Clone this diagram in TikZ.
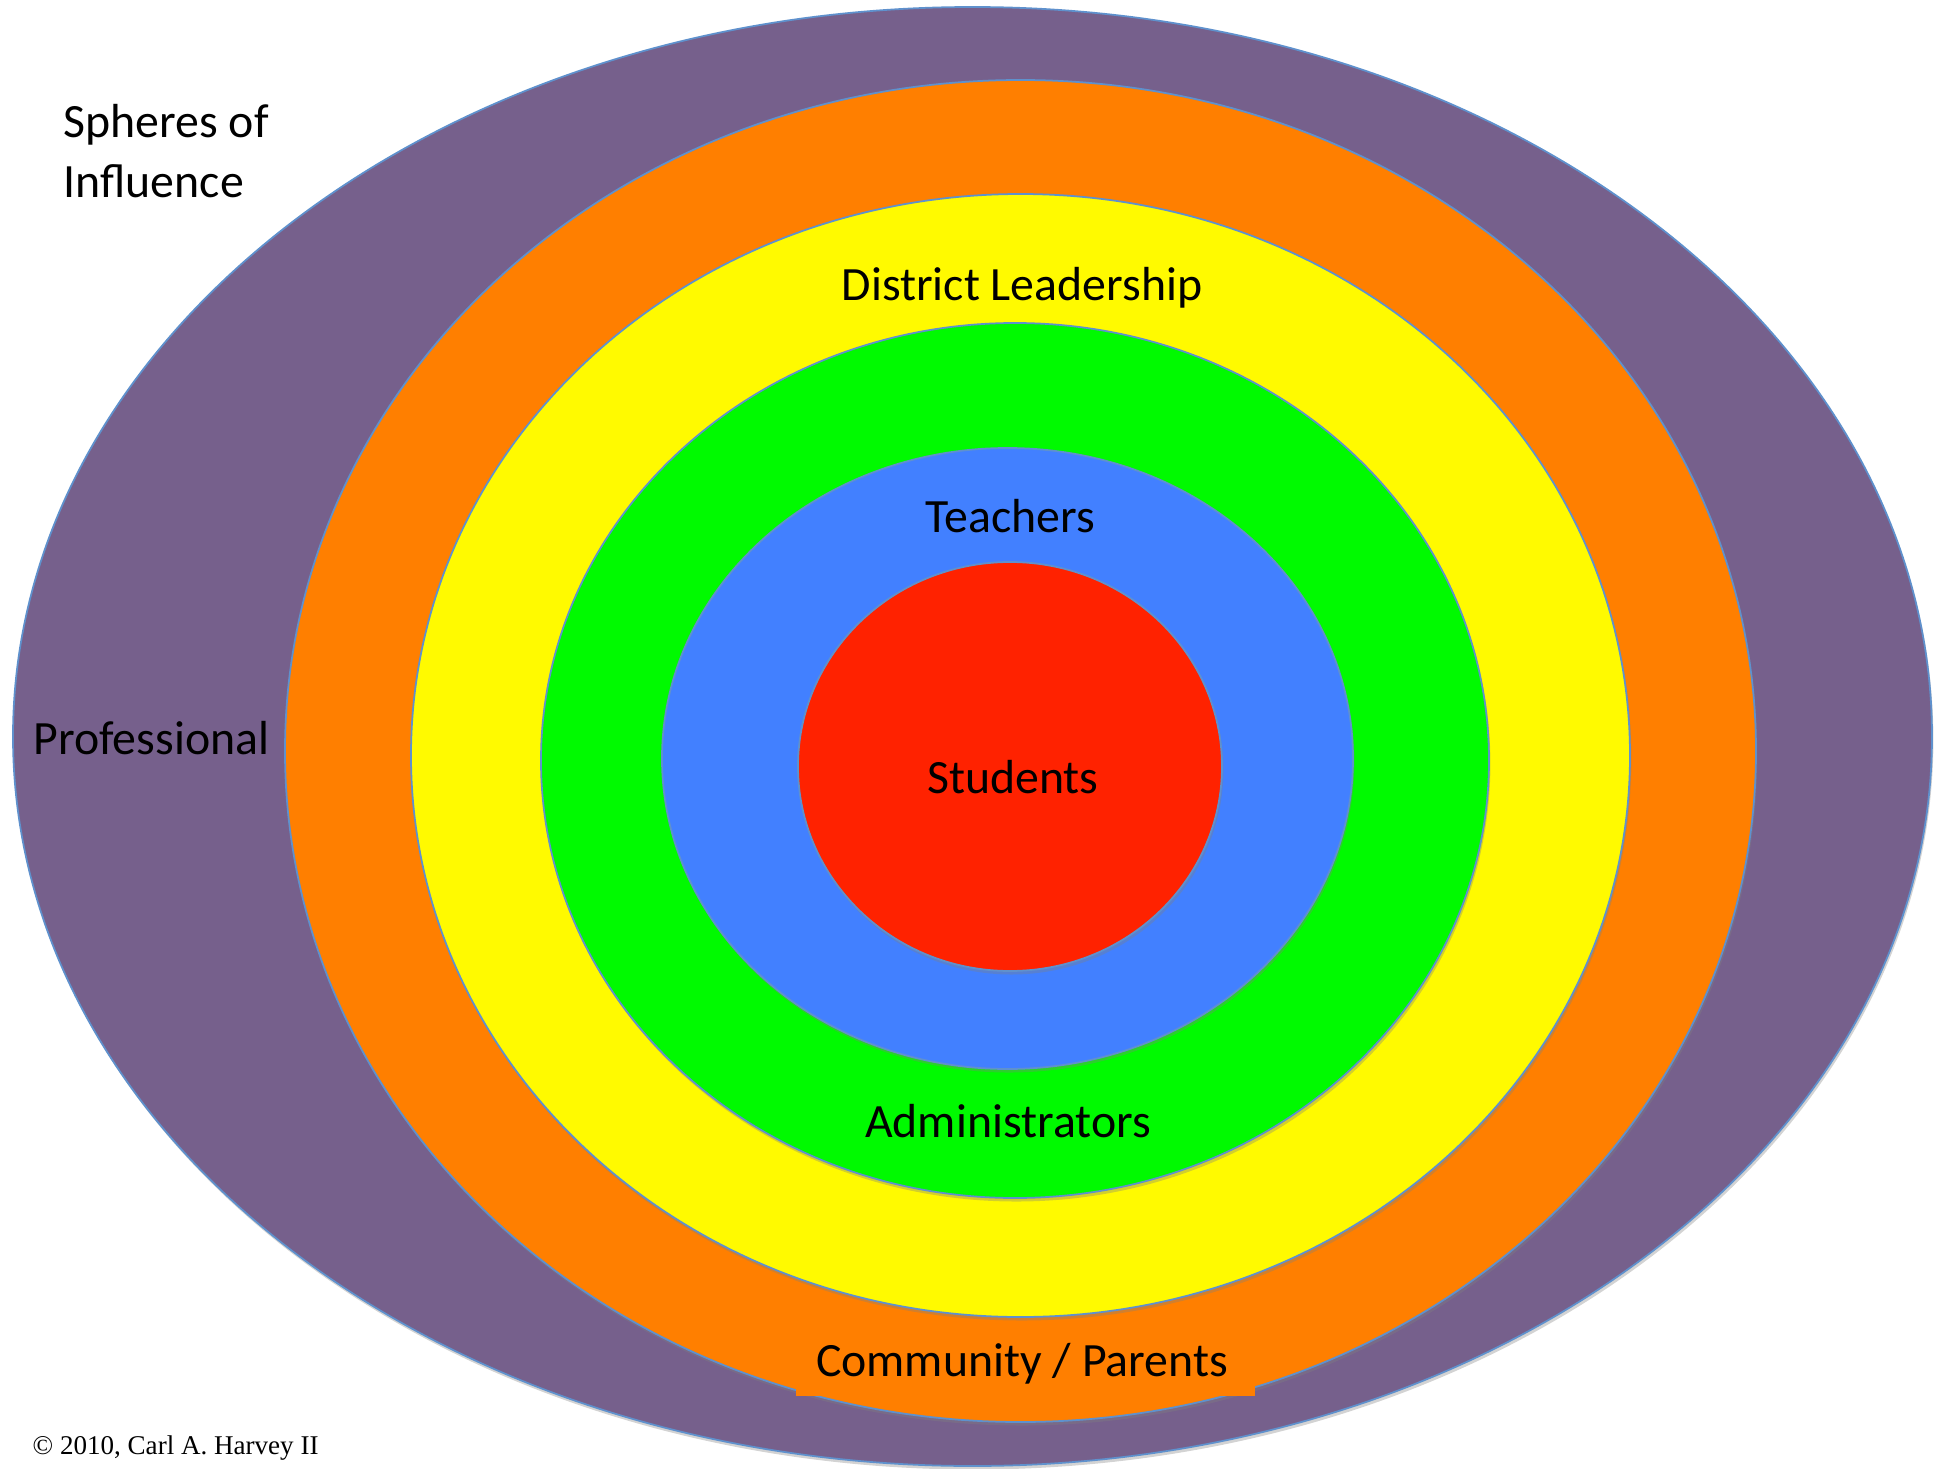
\documentclass[tikz,border=0pt]{standalone}
\usepackage{fontspec}
\setmainfont{Carlito}
\newfontfamily\credfont{Liberation Serif}
\usetikzlibrary{shadows}

\definecolor{profcol}{RGB}{118,96,140}
\definecolor{commcol}{RGB}{255,127,0}
\definecolor{distcol}{RGB}{255,250,0}
\definecolor{admcol}{RGB}{0,250,0}
\definecolor{teachcol}{RGB}{66,128,255}
\definecolor{studcol}{RGB}{255,34,0}
\definecolor{ringline}{RGB}{95,145,205}

\tikzset{
  ring/.style={draw=ringline, line width=0.5pt,
    drop shadow={shadow xshift=0.4pt, shadow yshift=-1pt, opacity=0.35}},
  lbl/.style={font=\fontsize{13.6}{16}\selectfont, inner sep=0pt}
}

\begin{document}
\begin{tikzpicture}
\useasboundingbox (0,0) rectangle (19.5,-14.69);
% the spheres, outside in
\path[ring, fill=profcol]  (9.725,-7.365) ellipse [x radius=9.595, y radius=7.295];
\path[ring, fill=commcol]  (10.205,-7.51) ellipse [x radius=7.355, y radius=6.71];
\path[ring, fill=distcol]  (10.205,-7.555) ellipse [x radius=6.095, y radius=5.615];
\path[ring, fill=admcol]   (10.15,-7.605) ellipse [x radius=4.74, y radius=4.375];
\path[ring, fill=teachcol] (10.075,-7.585) ellipse [x radius=3.455, y radius=3.105];
\path[ring, fill=studcol]  (10.10,-7.665) ellipse [x radius=2.12, y radius=2.045];

% labels
\node[lbl, fill=commcol, minimum width=4.59cm, minimum height=0.66cm] (comm) at (10.255,-13.63) {};
\node[lbl, anchor=base] (commtxt) at (10.22,-13.76) {Community / Parents};
\node[lbl, anchor=base] (dist) at (10.22,-3.00) {District Leadership};
\node[lbl, anchor=base] (teach) at (10.10,-5.32) {Teachers};
\node[lbl, anchor=base] (stud) at (10.13,-7.93) {Students};
\node[lbl, anchor=base] (adm) at (10.08,-11.37) {Administrators};
\node[lbl, anchor=base west] (prof) at (0.33,-7.54) {Professional};
\node[lbl, anchor=base west] (sph) at (0.63,-1.37) {Spheres of};
\node[lbl, anchor=base west] (infl) at (0.63,-1.97) {Influence};
\node[inner sep=0pt, anchor=base west, font=\credfont\fontsize{7.7}{9}\selectfont] (cred) at (0.32,-14.54) {© 2010, Carl A. Harvey II};
\end{tikzpicture}
\end{document}
